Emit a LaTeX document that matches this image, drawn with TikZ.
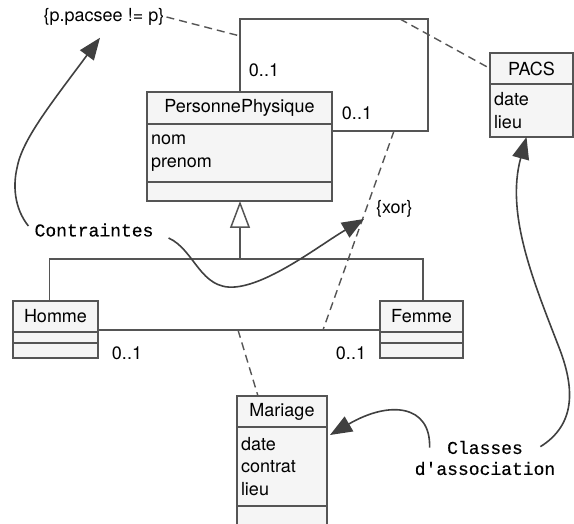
\documentclass[tikz,border=0pt]{standalone}
\usepackage{fontspec}
\setmainfont{TeX Gyre Heros}
\setmonofont[FakeBold=0.4]{Liberation Mono}
\usetikzlibrary{arrows.meta}
\definecolor{trait}{HTML}{555555}
\definecolor{fleche}{HTML}{404040}
\definecolor{fond}{HTML}{F5F5F5}

\begin{document}
\begin{tikzpicture}[x=1pt, y=-1pt,
    ligne/.style={draw=trait, line width=1.5pt},
    pointille/.style={draw=trait, line width=1.4pt, dash pattern=on 8pt off 5pt},
    annot/.style={draw=fleche, line width=1.6pt, -{Triangle[length=22pt, width=17pt]}},
    case/.style={draw=trait, fill=fond, line width=1.5pt, inner sep=0pt, outer sep=0pt, anchor=north west},
    attr/.style={case, align=left, inner xsep=4pt},
    note/.style={inner sep=2pt, font=\fontsize{18}{21}\selectfont\ttfamily},
    every node/.style={font=\fontsize{18}{22.5}\selectfont}]
  \clip (0,0) rectangle (574,524);
  % Classe PersonnePhysique
  \node[case, minimum width=185pt, minimum height=32pt] (pphead) at (147,92) {PersonnePhysique};
  \node[attr, text width=177pt, minimum height=58pt] (ppattr) at (147,124) {nom\\prenom};
  \node[case, minimum width=185pt, minimum height=19pt] (ppops) at (147,182) {};
  % Classe PACS
  \node[case, minimum width=83pt, minimum height=31pt] (pacshead) at (490,53) {PACS};
  \node[attr, text width=75pt, minimum height=53pt] (pacsattr) at (490,84) {date\\lieu};
  % Classes Homme et Femme
  \node[case, minimum width=85pt, minimum height=31pt] (hommehead) at (13,301) {Homme};
  \node[case, minimum width=85pt, minimum height=11pt] (hommeattr) at (13,332) {};
  \node[case, minimum width=85pt, minimum height=15pt] (hommeops) at (13,343) {};
  \node[case, minimum width=83pt, minimum height=31pt] (femmehead) at (380,301) {Femme};
  \node[case, minimum width=83pt, minimum height=11pt] (femmeattr) at (380,332) {};
  \node[case, minimum width=83pt, minimum height=15pt] (femmeops) at (380,343) {};
  % Classe Mariage
  \node[case, minimum width=90pt, minimum height=31pt] (mariagehead) at (237,396) {Mariage};
  \node[attr, text width=82pt, minimum height=79pt] (mariageattr) at (237,427) {date\\contrat\\lieu};
  \node[case, minimum width=90pt, minimum height=34pt] (mariageops) at (237,506) {};

  % Association reflexive (pacsee)
  \coordinate (angA) at (240,19);
  \coordinate (angB) at (428,19);
  \draw[ligne] (pphead.north -| angA) -- (angA) -- (angB) |- ([yshift=-7pt]ppattr.north east);
  \node (mult1) at (264,70) {0..1};
  \node (mult2) at (357,113) {0..1};

  % Heritage
  \coordinate (gen) at (240,259);
  \draw[ligne, -{Triangle[open, length=27pt, width=20pt]}] (gen) -- (gen |- ppops.south);
  \draw[ligne] ([xshift=-6pt]hommehead.north) |- (gen) -| ([xshift=1.5pt]femmehead.north);

  % Association Homme -- Femme
  \draw[ligne] ([yshift=2pt]hommehead.south east) -- ([yshift=2pt]femmehead.south west);
  \node (mult3) at (127,353) {0..1};
  \node (mult4) at (351,353) {0..1};

  % Classes d'association et contraintes
  \node[inner sep=2pt] (pcontr) at (104,17) {\{p.pacsee != p\}};
  \coordinate (cgauche) at (240,36);
  \draw[pointille] (pcontr.east) -- (cgauche);
  \coordinate (chaut) at (400,19);
  \draw[pointille] (chaut) -- (pacshead.west);
  \coordinate (xorA) at (394,131);
  \coordinate (xorB) at (323,330);
  \draw[pointille] (xorA) -- (xorB) node[pos=0.39, anchor=west, xshift=7pt, inner sep=2pt] (xor) {\{xor\}};
  \coordinate (mA) at (238,330);
  \draw[pointille] (mA) -- ([xshift=-24pt]mariagehead.north);

  % Notes
  \node[note] (contr) at (94,230) {Contraintes};
  \node[note, align=center] (classes) at (485,458) {Classes\\d'association};
  \coordinate (xorfl) at (364,219);
  \draw[annot] ([shift={(-4,-4)}]contr.west) .. controls (14,208) and (13,185) .. (17,168)
    .. controls (22,140) and (50,105) .. ([shift={(-4,10)}]pcontr.south);
  \draw[annot] ([shift={(13,8)}]contr.east) .. controls (195,250) and (200,290) .. (235,287)
    .. controls (270,284) and (320,245) .. (xorfl);
  \draw[annot] ([shift={(17,9)}]classes.north west) .. controls (431,405) and (390,400) .. ([shift={(3,8)}]mariageattr.north east);
  \draw[annot] ([shift={(-17,8)}]classes.north east) .. controls (575,425) and (575,390) .. (560,350)
    .. controls (535,285) and (505,215) .. ([shift={(-5,0)}]pacsattr.south);
\end{tikzpicture}
\end{document}
